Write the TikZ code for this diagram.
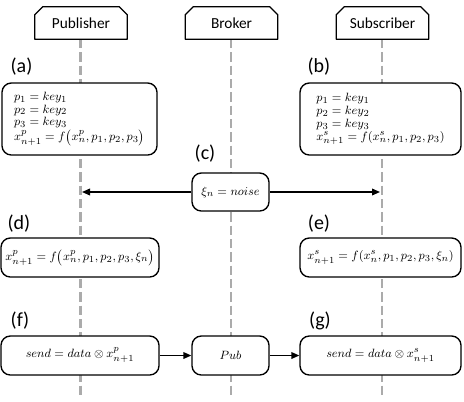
\documentclass[tikz,border=0pt]{standalone}
\usepackage{fontspec}
\newfontfamily\carlito{Carlito}
\usetikzlibrary{arrows.meta,calc}
\pgfdeclarelayer{bg}
\pgfsetlayers{bg,main}
\begin{document}
\begin{tikzpicture}[x=0.75pt,y=-0.75pt,
  hdr/.style={minimum width=69pt,minimum height=24pt,inner sep=0pt,font=\carlito\fontsize{11.5}{11.5}\selectfont},
  hdrline/.style={draw=black,line width=1pt,fill=white,line join=round},
  box/.style={draw=black,line width=1pt,rounded corners=7pt,fill=white,inner ysep=0pt},
  mth/.style={font=\fontsize{9.4}{9.6}\selectfont},
  lbl/.style={font=\carlito\fontsize{15}{15}\selectfont,inner sep=0pt},
  life/.style={draw=black!33,line width=2pt,dash pattern=on 7pt off 3pt},
  arr/.style={-{Triangle[length=6pt,width=5pt]},line width=1.1pt}]
\useasboundingbox (0,0) rectangle (464,401);
% headers
\node[hdr] (pub) at (81,23) {Publisher};
\node[hdr] (bro) at (231.5,23) {Broker};
\node[hdr] (sub) at (382.5,23) {Subscriber};
% lifeline ends
\coordinate (ptop) at (80.5,39); \coordinate (pbot) at (80.5,398);
\coordinate (btop) at (231,39);  \coordinate (bbot) at (231,398);
\coordinate (stop) at (382,39);  \coordinate (sbot) at (382,398);
% labels
\node[lbl] (la) at (21.5,67) {(a)};
\node[lbl] (lb) at (319,67) {(b)};
\node[lbl] (lc) at (205,154) {(c)};
\node[lbl] (ld) at (19,224) {(d)};
\node[lbl] (le) at (319,224) {(e)};
\node[lbl] (lf) at (20,321) {(f)};
\node[lbl] (lg) at (320,321) {(g)};
% boxes
\node[box,mth,align=left,minimum width=116.25pt,minimum height=54pt] (a) at (79.5,119)
  {$p_1 = key_1$\\ $p_2 = key_2$\\ $p_3 = key_3$\\ $x^p_{n+1} = f\bigl(x^p_n, p_1, p_2, p_3\bigr)$};
\node[box,mth,align=left,minimum width=120.75pt,minimum height=54pt] (b) at (380.5,119)
  {$p_1 = key_1$\\ $p_2 = key_2$\\ $p_3 = key_3$\\ $x^s_{n+1} = f(x^s_n, p_1, p_2, p_3)$};
\node[box,mth,minimum width=57.75pt,minimum height=28.5pt] (c) at (230.5,192) {$\xi_n = noise$};
\node[box,mth,minimum width=118.5pt,minimum height=29.25pt] (d) at (80,257.5)
  {$x^p_{n+1} = f\bigl(x^p_n, p_1, p_2, p_3, \xi_n\bigr)$};
\node[box,mth,minimum width=120.75pt,minimum height=29.25pt] (e) at (380.5,257.5)
  {$x^s_{n+1} = f(x^s_n, p_1, p_2, p_3, \xi_n)$};
\node[box,mth,minimum width=118.5pt,minimum height=29.25pt] (f) at (80,355.5)
  {$send = data \otimes x^p_{n+1}$};
\node[box,mth,minimum width=57.75pt,minimum height=29.25pt] (pb) at (230.5,355.5) {$Pub$};
\node[box,mth,minimum width=120.75pt,minimum height=29.25pt] (g) at (380.5,355.5)
  {$send = data \otimes x^s_{n+1}$};
% arrows
\coordinate (pin) at (82,192);
\coordinate (sin) at (380,192);
\draw[arr] (c.west) -- (pin);
\draw[arr] (c.east) -- (sin);
\draw[arr] (f.east) -- (pb.west);
\draw[arr] (pb.east) -- (g.west);
\begin{pgfonlayer}{bg}
  \draw[life] (ptop) -- (pbot);
  \draw[life] (btop) -- (bbot);
  \draw[life] (stop) -- (sbot);
  \foreach \n in {pub,bro,sub}{
    \draw[hdrline] (\n.south west) -- ($(\n.north west)+(0,8)$) -- ($(\n.north west)+(8,0)$)
      -- ($(\n.north east)+(-8,0)$) -- ($(\n.north east)+(0,8)$) -- (\n.south east) -- cycle;
  }
\end{pgfonlayer}
\end{tikzpicture}
\end{document}
